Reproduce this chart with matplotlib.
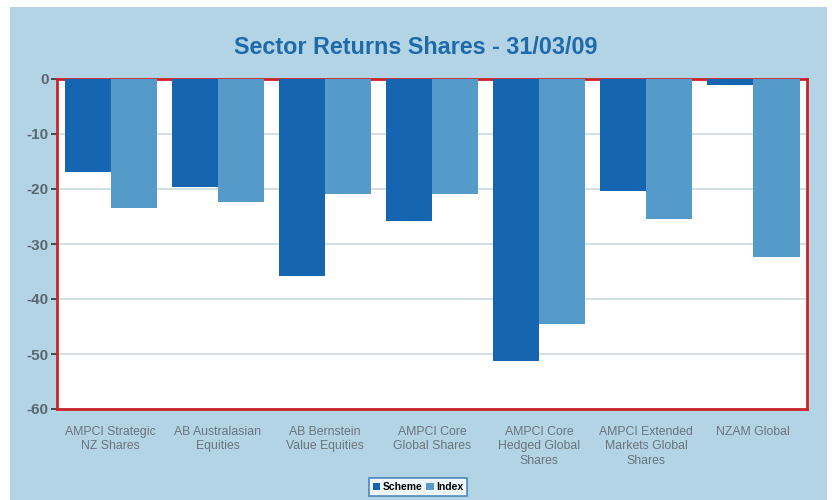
import matplotlib.pyplot as plt
import numpy as np
from matplotlib.patches import Rectangle

plt.rcParams['font.family'] = ['Liberation Sans', 'DejaVu Sans']
plt.rcParams['axes.unicode_minus'] = False

# Data
categories = ['AMPCI Strategic\nNZ Shares', 'AB Australasian\nEquities', 'AB Bernstein\nValue Equities',
              'AMPCI Core\nGlobal Shares', 'AMPCI Core\nHedged Global\nShares',
              'AMPCI Extended\nMarkets Global\nShares', 'NZAM Global']
scheme = [-17.0, -19.7, -35.9, -25.9, -51.3, -20.4, -1.1]
index = [-23.5, -22.4, -21.0, -21.0, -44.5, -25.4, -32.3]

bg = '#b3d4e5'
fig = plt.figure(figsize=(8.32, 5), dpi=100)
fig.patch.set_facecolor('white')
fig.patches.append(Rectangle((10 / 832, 0), 817 / 832, 493 / 500, transform=fig.transFigure,
                             facecolor=bg, edgecolor='none', zorder=-10))

ax = fig.add_axes([57 / 832, 91 / 500, 750 / 832, 330 / 500])
x = np.arange(len(categories))
w = 0.43
ax.bar(x - w / 2, scheme, w, color='#1565b0', label='Scheme', zorder=3)
ax.bar(x + w / 2, index, w, color='#559bca', label='Index', zorder=3)

ax.set_xlim(-0.5, len(categories) - 0.5)
ax.set_ylim(-60, 0)
ax.set_yticks(np.arange(-60, 1, 10))
ax.tick_params(axis='y', labelsize=11, labelcolor='#5a6670', color='#333333', length=4, width=1.2, pad=2)
for lbl in ax.get_yticklabels():
    lbl.set_fontweight('bold')
ax.set_xticks(x)
ax.set_xticklabels(categories, fontsize=8.8, color='#6a747c', linespacing=1.3)
ax.tick_params(axis='x', length=0, pad=12)
ax.grid(axis='y', color='#cbd8e0', linewidth=1.2, zorder=0)
for s in ax.spines.values():
    s.set_color('#cc2229')
    s.set_linewidth(2)
ax.set_facecolor('white')

fig.text(0.5, 1 - 48 / 500, 'Sector Returns Shares - 31/03/09', ha='center', va='center',
         fontsize=16.8, fontweight='bold', color='#1f6aab')

leg = fig.legend(loc='center', bbox_to_anchor=(418 / 832, 1 - 487 / 500), ncol=2,
                 prop={'weight': 'bold', 'size': 7.5}, frameon=True, fancybox=False,
                 handlelength=0.7, handleheight=0.7, handletextpad=0.2, columnspacing=0.4,
                 borderpad=0.35, borderaxespad=0)
leg.get_frame().set_edgecolor('#2a6fb0')
leg.get_frame().set_linewidth(1.2)

fig.savefig('out.png', dpi=100, facecolor=fig.get_facecolor())
